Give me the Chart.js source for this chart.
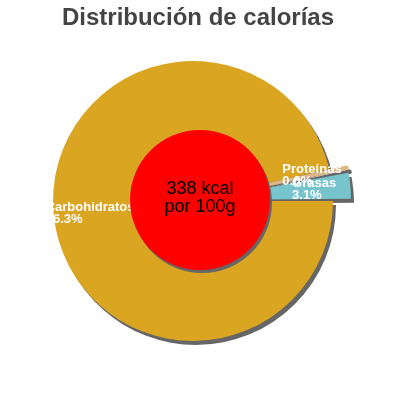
<!DOCTYPE html>
<html>
<head>
<meta charset="utf-8">
<script src="https://cdn.jsdelivr.net/npm/chart.js@4"></script>
<style>
html,body{margin:0;padding:0;background:#fff;}
#wrap{position:relative;width:400px;height:400px;overflow:hidden;}
#title{position:absolute;left:-2px;top:0;width:400px;text-align:center;font:bold 24px "Liberation Sans",Arial,sans-serif;color:#444;line-height:34px;white-space:nowrap;}
canvas{position:absolute;left:0;top:0;}
</style>
</head>
<body>
<div id="wrap">
<canvas id="c" width="400" height="400"></canvas>
<div id="title">Distribución de calorías</div>
</div>
<script>
const categories = ['Carbohidratos', 'Proteinas', 'Grasas'];
const percentages = [96.3, 0.6, 3.1];
const energyLines = ['338 kcal', 'por 100g'];

const SHADOW = '#666666';
const LABEL_FONT = 'bold 13px "Liberation Sans", Arial, sans-serif';
const CENTER_FONT = '18px "Liberation Sans", Arial, sans-serif';

function arcShift(el) {
  const off = (el.options.offset || 0) / 4;
  const circ = el.endAngle - el.startAngle;
  const fix = 1 - Math.sin(Math.min(Math.PI, circ));
  const t = off + off * fix;
  const ha = (el.startAngle + el.endAngle) / 2;
  return { ha: ha, x: el.x + Math.cos(ha) * t, y: el.y + Math.sin(ha) * t };
}

const pieDecor = {
  id: 'pieDecor',
  beforeDatasetsDraw(chart) {
    const ctx = chart.ctx;
    const meta = chart.getDatasetMeta(0);
    ctx.save();
    ctx.translate(3, 4);
    meta.data.forEach(el => {
      const o = el.options;
      el.options = Object.assign({}, o, { backgroundColor: SHADOW, borderColor: SHADOW });
      el.draw(ctx);
      el.options = o;
    });
    ctx.restore();
  },
  afterDatasetsDraw(chart) {
    const ctx = chart.ctx;
    const meta = chart.getDatasetMeta(0);
    ctx.save();
    ctx.font = LABEL_FONT;
    ctx.fillStyle = '#ffffff';
    ctx.textBaseline = 'middle';
    ctx.textAlign = 'left';
    meta.data.forEach((el, i) => {
      const s = arcShift(el);
      const d = el.outerRadius * 0.74;
      const ax = s.x + Math.cos(s.ha) * d;
      const ay = s.y + Math.sin(s.ha) * d;
      const lines = [categories[i], percentages[i].toFixed(1) + '%'];
      const w = Math.max.apply(null, lines.map(l => ctx.measureText(l).width));
      lines.forEach((l, k) => ctx.fillText(l, ax - w / 2, ay + (k - 0.5) * 12));
    });
    const cx = chart.width / 2, cy = chart.height / 2;
    const r = meta.data[0].outerRadius / 2;
    ctx.fillStyle = SHADOW;
    ctx.beginPath(); ctx.arc(cx + 2, cy + 3, r, 0, Math.PI * 2); ctx.fill();
    ctx.fillStyle = '#ff0000';
    ctx.beginPath(); ctx.arc(cx, cy, r, 0, Math.PI * 2); ctx.fill();
    ctx.fillStyle = '#000000';
    ctx.textAlign = 'center';
    ctx.font = CENTER_FONT;
    energyLines.forEach((l, k) => ctx.fillText(l, cx, cy + (k - 0.5) * 18 - 2));
    ctx.restore();
  }
};

new Chart(document.getElementById('c'), {
  type: 'pie',
  data: {
    labels: categories,
    datasets: [{
      data: percentages,
      backgroundColor: ['#DAA520', '#DEB887', '#78C4CC'],
      borderColor: ['#DAA520', '#DEB887', '#78C4CC'],
      borderWidth: [0, 2, 0],
      offset: [0, 37, 40],
      hoverOffset: 0
    }]
  },
  options: {
    responsive: false,
    animation: false,
    radius: 140,
    rotation: 90,
    events: [],
    layout: { padding: { left: 0, right: 14, top: 42, bottom: 40 } },
    plugins: {
      legend: { display: false },
      tooltip: { enabled: false },
      title: { display: false }
    }
  },
  plugins: [pieDecor]
});
</script>
</body>
</html>
